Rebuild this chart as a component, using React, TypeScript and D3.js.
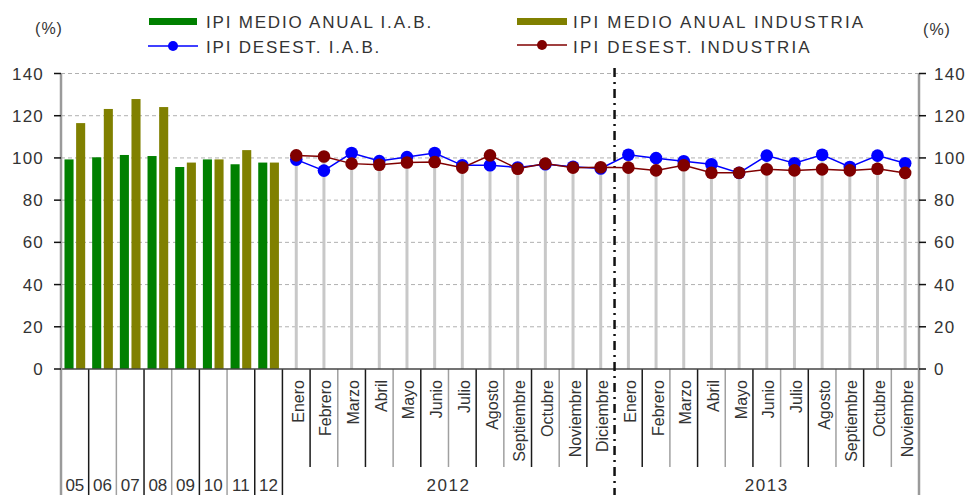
import React from "react";
import * as d3 from "d3";

const years = ["05", "06", "07", "08", "09", "10", "11", "12"];
const annualIAB = [99.3, 100.3, 101.4, 100.9, 95.7, 99.3, 97.0, 97.8];
const annualInd = [116.5, 123.2, 127.9, 124.1, 97.8, 99.3, 103.7, 97.8];

const months2012 = ["Enero", "Febrero", "Marzo", "Abril", "Mayo", "Junio", "Julio", "Agosto", "Septiembre", "Octubre", "Noviembre", "Diciembre"];
const months2013 = ["Enero", "Febrero", "Marzo", "Abril", "Mayo", "Junio", "Julio", "Agosto", "Septiembre", "Octubre", "Noviembre"];
const groupLabels = ["2012", "2013"];

const desestIAB = [99.2, 94.0, 102.3, 98.5, 100.4, 102.3, 96.5, 96.5, 95.5, 97.0, 95.8, 95.0, 101.5, 99.9, 98.4, 97.0, 92.9, 101.1, 97.5, 101.5, 95.7, 101.1, 97.5];
const desestInd = [101.2, 100.7, 97.3, 96.8, 97.8, 98.1, 95.4, 101.2, 94.9, 97.3, 95.4, 95.6, 95.4, 94.1, 96.5, 93.0, 93.0, 94.6, 94.1, 94.6, 94.1, 94.9, 92.9];

const yTicks = [0, 20, 40, 60, 80, 100, 120, 140];

const legendLabels = ["IPI MEDIO ANUAL I.A.B.", "IPI MEDIO ANUAL INDUSTRIA", "IPI DESEST. I.A.B.", "IPI DESEST. INDUSTRIA"];

const W = 973;
const H = 495;
const FONT = "'Liberation Sans', Arial, sans-serif";
const TXT = "#333";

export default function App() {
  const yearKeys = years.map((y) => "Y" + y);
  const monthKeys = [
    ...months2012.map((m) => "2012-" + m),
    ...months2013.map((m) => "2013-" + m),
  ];
  const monthNames = [...months2012, ...months2013];
  const cats = [...yearKeys, ...monthKeys];

  const x = d3.scaleBand<string>().domain(cats).range([61, 919]).padding(0);
  const bw = x.bandwidth();
  const inner = d3.scaleBand<string>().domain(["iab", "ind"]).range([0, bw]).paddingInner(0.22).paddingOuter(0.3);
  const y = d3.scaleLinear().domain([0, 140]).range([369, 73.5]);

  const lineGen = d3
    .line<number>()
    .x((_, i) => (x(monthKeys[i]) as number) + bw / 2)
    .y((d) => y(d));

  const boundaries = d3.range(cats.length + 1).map((k) => 61 + k * bw);
  const groupBoundaryIdx = [0, 8, 20, 31];
  const splitX = x(monthKeys[12]) as number;

  return (
    <div style={{ position: "absolute", left: 0, top: 0 }}>
      <svg width={W} height={H} style={{ display: "block", background: "#fff" }} fontFamily={FONT}>
        <rect x={0} y={0} width={W} height={H} fill="#fff" />

        {/* gridlines */}
        {yTicks.filter((t) => t > 0).map((t) => (
          <line key={"g" + t} x1={61} x2={919} y1={y(t)} y2={y(t)} stroke="#b0b0b0" strokeWidth={1} strokeDasharray="4,3" />
        ))}

        {/* drop lines */}
        {monthKeys.map((k, i) => (
          <line
            key={"d" + k}
            x1={(x(k) as number) + bw / 2}
            x2={(x(k) as number) + bw / 2}
            y1={y(Math.max(desestIAB[i], desestInd[i]))}
            y2={y(0)}
            stroke="#c8c8c8"
            strokeWidth={3}
          />
        ))}

        {/* bars */}
        {yearKeys.map((k, i) => (
          <g key={"b" + k}>
            <rect x={(x(k) as number) + (inner("iab") as number)} y={y(annualIAB[i])} width={inner.bandwidth()} height={y(0) - y(annualIAB[i])} fill="#008000" />
            <rect x={(x(k) as number) + (inner("ind") as number)} y={y(annualInd[i])} width={inner.bandwidth()} height={y(0) - y(annualInd[i])} fill="#808000" />
          </g>
        ))}

        {/* category separators below axis */}
        {boundaries.map((bx, k) => {
          if (k === 0 || k === 20 || k === 31) return null;
          const isGroup = groupBoundaryIdx.includes(k) || k < 8;
          const y2 = isGroup ? H : 467;
          const col = k % 2 === 1 || k === 8 ? "#1a1a1a" : "#a0a0a0";
          return <line key={"s" + k} x1={bx} x2={bx} y1={369} y2={y2} stroke={col} strokeWidth={1.5} />;
        })}

        {/* axes */}
        <line x1={61} x2={919} y1={y(0)} y2={y(0)} stroke="#444" strokeWidth={1.5} />
        <line x1={61} x2={61} y1={y(140)} y2={H} stroke="#9a9a9a" strokeWidth={2.5} />
        <line x1={919} x2={919} y1={y(140)} y2={H} stroke="#9a9a9a" strokeWidth={2.5} />
        {yTicks.map((t) => (
          <g key={"t" + t}>
            <line x1={54} x2={61} y1={y(t)} y2={y(t)} stroke="#111" strokeWidth={1.5} />
            <line x1={919} x2={926} y1={y(t)} y2={y(t)} stroke="#111" strokeWidth={1.5} />
            <text x={44} y={y(t)} dy="0.36em" textAnchor="end" fontSize={17} letterSpacing={1.2} fill={TXT}>{t}</text>
            <text x={934} y={y(t)} dy="0.36em" textAnchor="start" fontSize={17} letterSpacing={1.2} fill={TXT}>{t}</text>
          </g>
        ))}

        {/* dash-dot split line */}
        <line x1={splitX} x2={splitX} y1={68} y2={H} stroke="#111" strokeWidth={2.5} strokeDasharray="9,5,2,5" />

        {/* lines */}
        <path d={lineGen(desestIAB) || ""} fill="none" stroke="#0000ff" strokeWidth={1.5} />
        {desestIAB.map((v, i) => (
          <circle key={"cb" + i} cx={(x(monthKeys[i]) as number) + bw / 2} cy={y(v)} r={6.3} fill="#0000ff" />
        ))}
        <path d={lineGen(desestInd) || ""} fill="none" stroke="#800000" strokeWidth={1.5} />
        {desestInd.map((v, i) => (
          <circle key={"cr" + i} cx={(x(monthKeys[i]) as number) + bw / 2} cy={y(v)} r={6.3} fill="#800000" />
        ))}

        {/* month labels */}
        {monthKeys.map((k, i) => {
          const cx = (x(k) as number) + bw / 2 + 7.5;
          return (
            <text key={"m" + k} transform={`translate(${cx},380) rotate(-90)`} textAnchor="end" fontSize={16} fill={TXT}>
              {monthNames[i]}
            </text>
          );
        })}

        {/* year labels */}
        {yearKeys.map((k, i) => (
          <text key={"yl" + k} x={(x(k) as number) + bw / 2} y={491} textAnchor="middle" fontSize={17} fill={TXT}>
            {years[i]}
          </text>
        ))}
        <text x={(boundaries[8] + boundaries[20]) / 2} y={491} textAnchor="middle" fontSize={17} letterSpacing={1.5} fill={TXT}>{groupLabels[0]}</text>
        <text x={(boundaries[20] + boundaries[31]) / 2} y={491} textAnchor="middle" fontSize={17} letterSpacing={1.5} fill={TXT}>{groupLabels[1]}</text>

        {/* unit labels */}
        <text x={49} y={34} textAnchor="middle" fontSize={16} letterSpacing={1} fill={TXT}>(%)</text>
        <text x={937} y={35} textAnchor="middle" fontSize={16} letterSpacing={1} fill={TXT}>(%)</text>

        {/* legend */}
        <rect x={149} y={18} width={48} height={7} fill="#008000" />
        <text x={206} y={28} fontSize={17} letterSpacing={1.8} fill={TXT}>{legendLabels[0]}</text>
        <rect x={517} y={18} width={50} height={7} fill="#808000" />
        <text x={573} y={28} fontSize={17} letterSpacing={2.2} fill={TXT}>{legendLabels[1]}</text>
        <line x1={148} x2={198} y1={46} y2={46} stroke="#0000ff" strokeWidth={1.5} />
        <circle cx={173} cy={46} r={5} fill="#0000ff" />
        <text x={206} y={52.5} fontSize={17} letterSpacing={1.8} fill={TXT}>{legendLabels[2]}</text>
        <line x1={517} x2={567} y1={45} y2={45} stroke="#800000" strokeWidth={1.5} />
        <circle cx={542} cy={45} r={5} fill="#800000" />
        <text x={573} y={52.5} fontSize={17} letterSpacing={2.2} fill={TXT}>{legendLabels[3]}</text>
      </svg>
    </div>
  );
}
